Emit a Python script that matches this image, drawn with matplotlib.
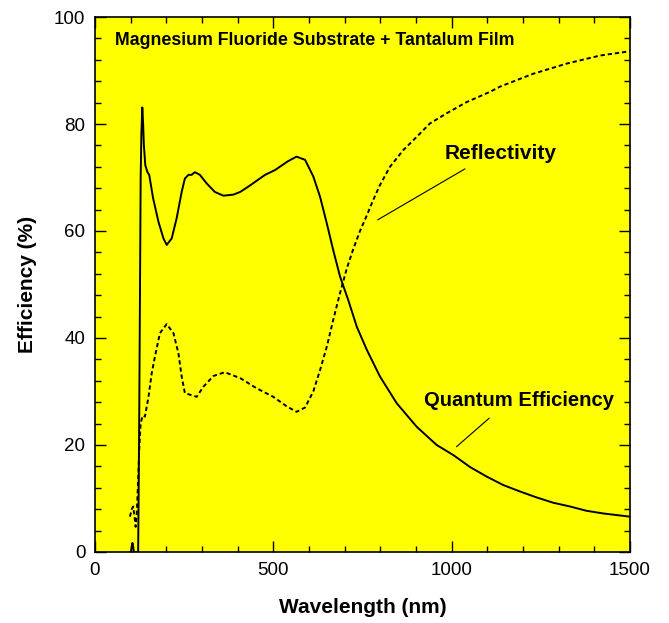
"""
Magnesium Fluoride Substrate + Tantalum Film
Quantum efficiency and reflectivity vs wavelength.
"""

import matplotlib
matplotlib.use('Agg')
import matplotlib.pyplot as plt
from matplotlib.ticker import MultipleLocator

plt.rcParams['font.family'] = ['Liberation Sans', 'DejaVu Sans']

# ============================================================
# Data
# ============================================================

qe_wl = [98, 101, 103, 105, 107, 109, 120, 121, 124, 126, 128, 130, 132.6,
         135, 137, 141, 147, 152, 163, 178, 192, 201, 215, 229, 243, 252,
         262, 271, 280, 294, 313, 336, 360, 388, 407, 430, 477, 505, 540,
         565, 589, 612, 631, 650, 668, 687, 710, 734, 762, 799, 846, 902,
         958, 1005, 1051, 1098, 1145, 1192, 1238, 1285, 1332, 1378, 1425, 1500]
qe_val = [0.0, 0.0, 1.0, 1.7, 1.0, 0.0, 0.0, 0.0, 25.0, 47.0, 69.8, 78.0, 83.1,
          80.0, 76.1, 72.3, 71.0, 70.5, 66.1, 61.7, 58.6, 57.4, 58.6, 62.4,
          67.3, 69.8, 70.5, 70.5, 71.0, 70.5, 68.9, 67.3, 66.6, 66.8, 67.3,
          68.3, 70.5, 71.4, 73.0, 73.9, 73.3, 70.2, 66.4, 61.4, 56.4, 51.5,
          47.1, 42.1, 37.8, 32.8, 27.8, 23.4, 20.0, 18.1, 15.9, 14.1, 12.5,
          11.3, 10.2, 9.2, 8.5, 7.7, 7.2, 6.6]

refl_wl = [98, 103, 107, 111, 114, 117, 121, 124, 128, 134, 140, 150, 159,
           168, 182, 201, 220, 234, 243, 252, 271, 285, 304, 332, 364, 407,
           453, 500, 538, 565, 589, 612, 631, 650, 668, 687, 706, 724, 743,
           762, 780, 799, 827, 864, 902, 939, 986, 1042, 1107, 1136, 1229,
           1323, 1416, 1500]
refl_val = [6.6, 8.0, 8.5, 6.5, 4.7, 7.0, 13.5, 19.1, 24.1, 25.5, 25.3, 29.0,
            33.4, 36.5, 40.9, 42.6, 40.9, 37.1, 32.8, 29.7, 29.3, 29.0, 30.9,
            32.9, 33.6, 32.5, 30.6, 29.0, 27.2, 26.2, 27.0, 30.0, 34.0, 38.4,
            43.4, 48.4, 53.0, 56.6, 60.0, 62.9, 65.8, 68.6, 72.0, 75.1, 77.6,
            80.1, 82.0, 84.1, 86.0, 87.0, 89.4, 91.3, 92.8, 93.6]

# ============================================================
# Plot
# ============================================================

fig = plt.figure(figsize=(6.69, 6.23), dpi=100)
ax = fig.add_axes([0.142, 0.114, 0.7997, 0.8587])
ax.set_facecolor('#FFFF00')

ax.plot(qe_wl, qe_val, color='black', linewidth=1.4)
ax.plot(refl_wl, refl_val, color='black', linewidth=1.4,
        linestyle=(0, (2.2, 1.5)))

ax.set_xlim(0, 1500)
ax.set_ylim(0, 100)
ax.xaxis.set_major_locator(MultipleLocator(500))
ax.xaxis.set_minor_locator(MultipleLocator(100))
ax.yaxis.set_major_locator(MultipleLocator(20))
ax.yaxis.set_minor_locator(MultipleLocator(4))
ax.tick_params(which='both', direction='in', top=True, right=True,
               labelsize=13.5, width=1, pad=7)
ax.tick_params(which='major', length=8)
ax.tick_params(which='minor', length=4)
for sp in ax.spines.values():
    sp.set_linewidth(1.2)

ax.set_xlabel('Wavelength (nm)', fontsize=15, fontweight='bold', labelpad=14)
ax.set_ylabel('Efficiency (%)', fontsize=15, fontweight='bold', labelpad=12)

# 标注
ax.text(56, 95.7, 'Magnesium Fluoride Substrate + Tantalum Film',
        fontsize=12.8, fontweight='bold', va='center', ha='left')
ax.text(981, 74.4, 'Reflectivity', fontsize=15, fontweight='bold',
        va='center', ha='left')
ax.plot([793, 1037], [62.1, 71.6], color='black', linewidth=0.8)
ax.text(922, 28.4, 'Quantum Efficiency', fontsize=14.6, fontweight='bold',
        va='center', ha='left')
ax.plot([1014, 1105], [19.7, 25.0], color='black', linewidth=0.8)

plt.savefig('out.png', dpi=100)
plt.close()
